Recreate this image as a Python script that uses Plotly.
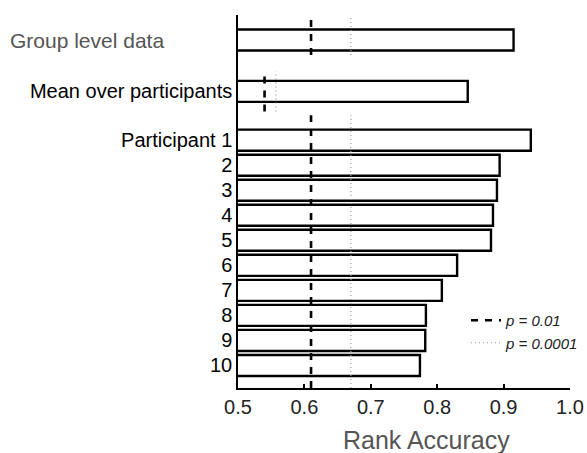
import plotly.graph_objects as go

# ---- data ----
participants = ["Participant 1", "2", "3", "4", "5", "6", "7", "8", "9", "10"]
participant_acc = [0.941, 0.894, 0.890, 0.884, 0.881, 0.830, 0.807, 0.783, 0.782, 0.774]
mean_label = "Mean over participants"
mean_acc = 0.846
group_label = "Group level data"
group_acc = 0.915

thr_p01 = 0.61        # p = 0.01 threshold (single subject / group)
thr_p0001 = 0.67      # p = 0.0001 threshold
mean_thr_p01 = 0.54   # thresholds for the mean over participants
mean_thr_p0001 = 0.557

x_ticks = [0.5, 0.6, 0.7, 0.8, 0.9, 1.0]

# ---- layout positions (category slots) ----
n = len(participants)
y_part = [n - 1 - i for i in range(n)]   # participant 1 on top
y_mean = n + 0.95
y_group = n + 3
y_lo, y_hi = -0.9, n + 4

fig = go.Figure()

fig.add_trace(go.Bar(
    orientation="h",
    x=participant_acc + [mean_acc, group_acc],
    y=y_part + [y_mean, y_group],
    width=0.84,
    marker=dict(color="white", line=dict(color="black", width=2.4)),
    showlegend=False,
    hoverinfo="x",
))

# dashed threshold lines (p = 0.01)
fig.add_trace(go.Scatter(
    x=[thr_p01, thr_p01, None, mean_thr_p01, mean_thr_p01, None, thr_p01, thr_p01],
    y=[y_group - 0.6, y_hi, None, y_mean - 0.8, y_mean + 0.8, None, y_lo, n],
    mode="lines",
    line=dict(color="black", width=2.6, dash="7px,7px"),
    name="<i>p</i> = 0.01",
    cliponaxis=False,
))
# dotted threshold lines (p = 0.0001)
fig.add_trace(go.Scatter(
    x=[thr_p0001, thr_p0001, None, mean_thr_p0001, mean_thr_p0001, None, thr_p0001, thr_p0001],
    y=[y_group - 0.6, y_hi, None, y_mean - 0.8, y_mean + 0.8, None, y_lo, n],
    mode="lines",
    line=dict(color="#9a9a9a", width=1.2, dash="1px,3px"),
    name="<i>p</i> = 0.0001",
    cliponaxis=False,
))

L, R, T, B = 238, 17, 15, 65
W, H = 587, 453
pw = W - L - R
ph = H - T - B

fig.update_layout(
    width=W, height=H,
    margin=dict(l=L, r=R, t=T, b=B, autoexpand=False),
    paper_bgcolor="white", plot_bgcolor="white",
    font=dict(family="Liberation Sans, Arial, sans-serif", color="black"),
    xaxis=dict(
        range=[0.5, 1.0],
        tickvals=x_ticks,
        ticktext=[f"{v:.1f}" for v in x_ticks],
        ticks="inside", ticklen=4, tickwidth=1.5, tickcolor="black",
        showline=True, linecolor="black", linewidth=1.5,
        showgrid=False, zeroline=False,
        tickfont=dict(size=20, color="#222"),
        fixedrange=True, automargin=False,
    ),
    yaxis=dict(
        range=[y_lo, y_hi],
        tickvals=y_part + [y_mean],
        ticktext=participants + [mean_label],
        ticks="", showline=True, linecolor="black", linewidth=1.5,
        showgrid=False, zeroline=False,
        tickfont=dict(size=20, color="black"),
        fixedrange=True, automargin=False,
    ),
    legend=dict(
        x=(466 - L) / pw, y=1 - (304 - T) / ph,
        xanchor="left", yanchor="top",
        bgcolor="rgba(0,0,0,0)",
        font=dict(size=15, color="#222", style="italic"),
        tracegroupgap=0, itemwidth=30,
    ),
    annotations=[
        dict(text=group_label, xref="paper", yref="y",
             x=(8 - L) / pw, y=y_group, xanchor="left", yanchor="middle",
             showarrow=False, font=dict(size=21, color="#555")),
        dict(text="Rank Accuracy", xref="paper", yref="paper",
             x=(426 - L) / pw, y=-(440 - (H - B)) / ph,
             xanchor="center", yanchor="middle",
             showarrow=False, font=dict(size=25, color="#555")),
    ],
)

fig.write_html(
    "out.html",
    config={"displayModeBar": False},
    post_script="document.body.style.margin='0';document.body.style.overflow='hidden';",
)
